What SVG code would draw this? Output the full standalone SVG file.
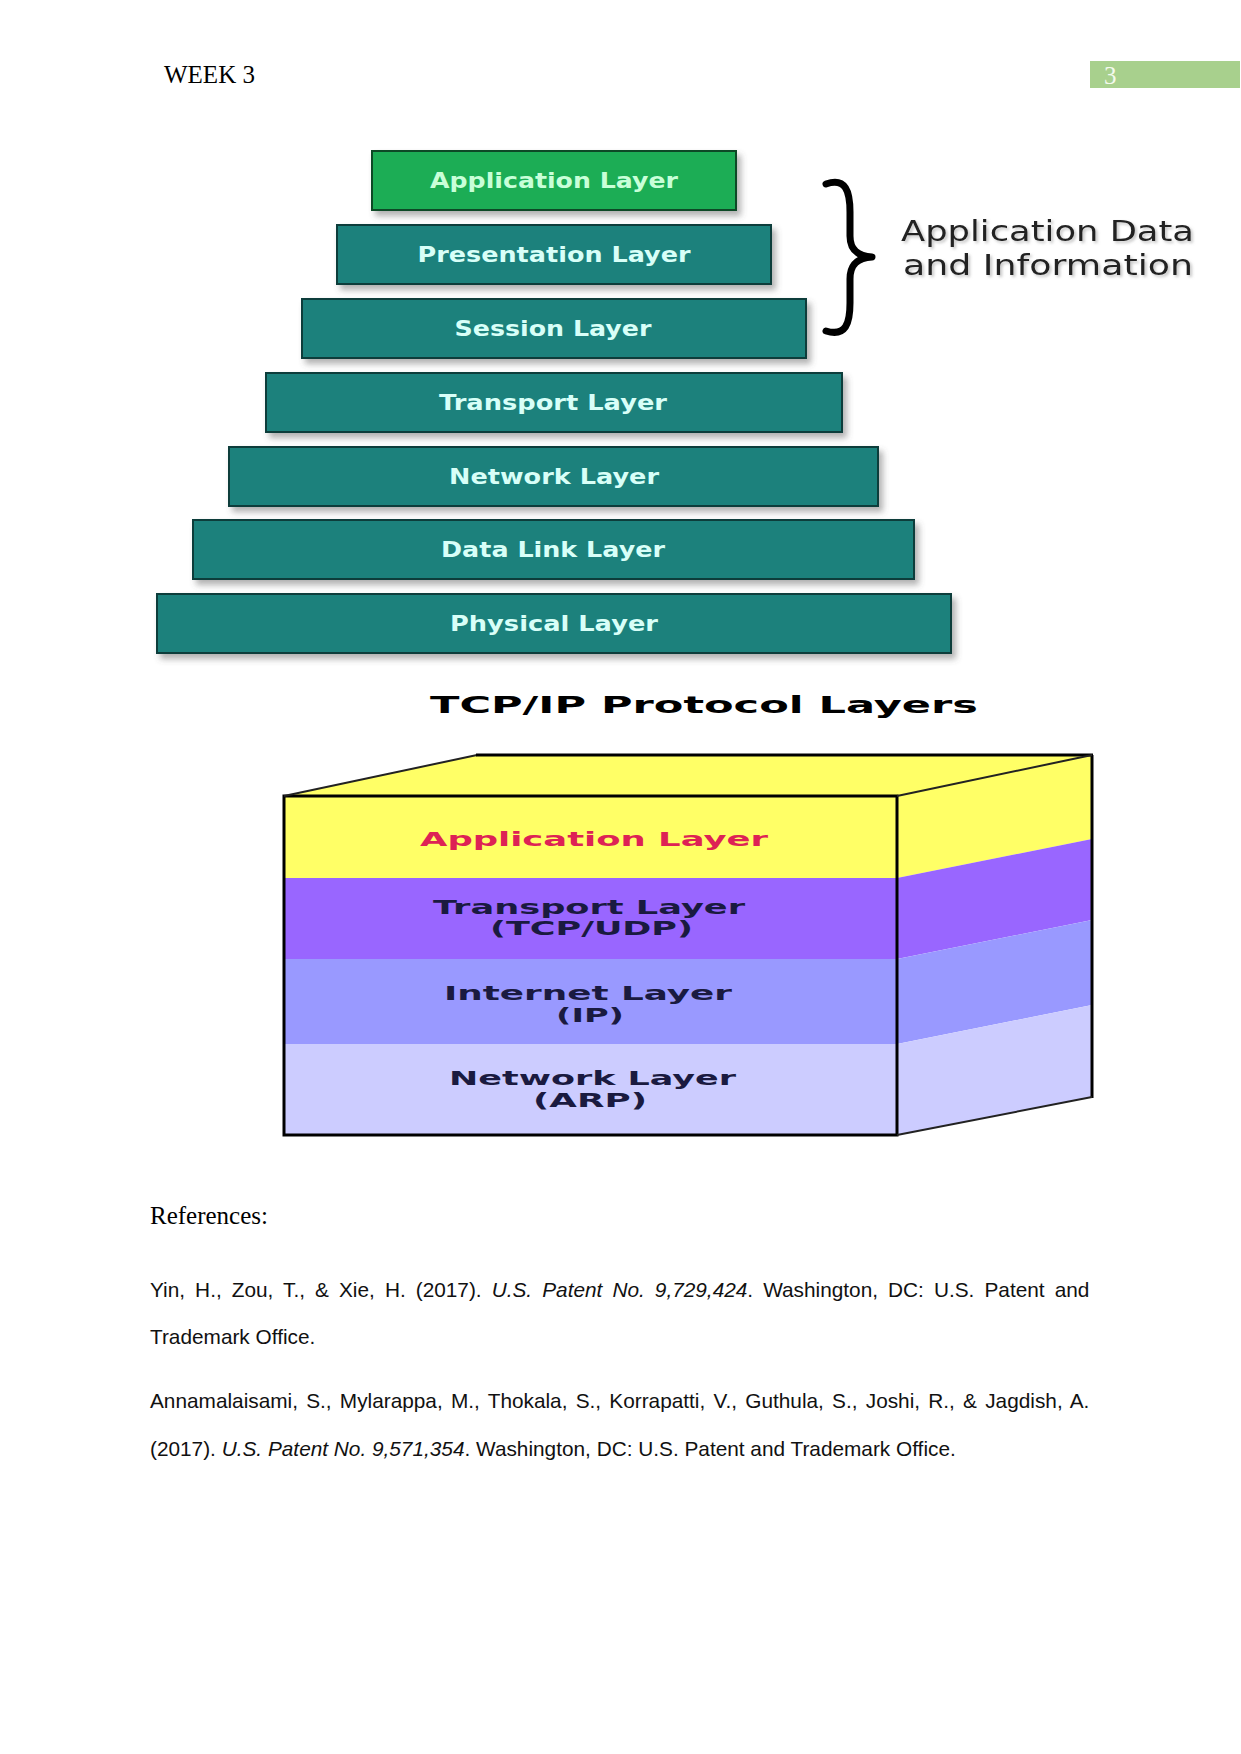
<svg xmlns="http://www.w3.org/2000/svg" width="1241" height="1754" viewBox="0 0 1241 1754">
<defs>
<filter id="sh" x="-5%" y="-20%" width="115%" height="160%">
<feDropShadow dx="4" dy="5" stdDeviation="3" flood-color="#555" flood-opacity="0.45"/>
</filter>
<filter id="tsh" x="-5%" y="-30%" width="115%" height="170%">
<feDropShadow dx="2" dy="2" stdDeviation="1.5" flood-color="#888" flood-opacity="0.5"/>
</filter>
</defs>
<style>
.hdr{font-family:"Liberation Serif","Times New Roman",serif;font-size:25px;fill:#000}
.box{fill:#1a817c;stroke:#0c3d3b;stroke-width:2}
.box.app{fill:#1aad55;stroke:#0d4a25}
.bt{font-family:"DejaVu Sans",Verdana,sans-serif;font-weight:bold;font-size:21px;fill:#d8fff8;text-anchor:middle}
.bt.app{fill:#c8ffd8}
.side{font-family:"DejaVu Sans",Verdana,sans-serif;font-size:28px;fill:#222}
.ttl{font-family:"DejaVu Sans",Verdana,sans-serif;font-weight:bold;font-size:23px;fill:#000}
.ct{font-family:"DejaVu Sans",Verdana,sans-serif;font-weight:bold;font-size:19px;fill:#1a1a40}
.ct.red{fill:#dd2255}
.edge{stroke:#000;fill:none;stroke-width:3}
.thin{stroke:#222;fill:none;stroke-width:2}
.ref{font-family:"Liberation Sans",Arial,sans-serif;font-size:20.8px;fill:#111}
.it{font-style:italic}
</style>

<g id="header">
<text class="hdr" x="164" y="83">WEEK 3</text>
<rect x="1090" y="61" width="150" height="27" fill="#a8d08d"/>
<text class="hdr" x="1104" y="84" style="fill:#f4faee">3</text>
</g>

<g id="osi-pyramid">
<g id="osi-application"><rect class="box app" x="372" y="151" width="364" height="59" filter="url(#sh)"/><text class="bt app" x="554" y="188" textLength="248" lengthAdjust="spacingAndGlyphs">Application Layer</text></g>
<g id="osi-presentation"><rect class="box" x="337" y="225" width="434" height="59" filter="url(#sh)"/><text class="bt" x="554" y="262" textLength="273" lengthAdjust="spacingAndGlyphs">Presentation Layer</text></g>
<g id="osi-session"><rect class="box" x="302" y="299" width="504" height="59" filter="url(#sh)"/><text class="bt" x="553" y="336" textLength="197" lengthAdjust="spacingAndGlyphs">Session Layer</text></g>
<g id="osi-transport"><rect class="box" x="266" y="373" width="576" height="59" filter="url(#sh)"/><text class="bt" x="553" y="410" textLength="228" lengthAdjust="spacingAndGlyphs">Transport Layer</text></g>
<g id="osi-network"><rect class="box" x="229" y="447" width="649" height="59" filter="url(#sh)"/><text class="bt" x="554" y="484" textLength="210" lengthAdjust="spacingAndGlyphs">Network Layer</text></g>
<g id="osi-datalink"><rect class="box" x="193" y="520" width="721" height="59" filter="url(#sh)"/><text class="bt" x="553" y="557" textLength="224" lengthAdjust="spacingAndGlyphs">Data Link Layer</text></g>
<g id="osi-physical"><rect class="box" x="157" y="594" width="794" height="59" filter="url(#sh)"/><text class="bt" x="554" y="631" textLength="208" lengthAdjust="spacingAndGlyphs">Physical Layer</text></g>
</g>

<g id="brace-label">
<path d="M 826 184 C 846 177, 850 192, 850 212 L 850 236 C 850 250, 858 256, 872 257 C 858 258, 850 264, 850 279 L 850 303 C 850 323, 846 337, 826 331" fill="none" stroke="#000" stroke-width="7" stroke-linecap="round" stroke-linejoin="round"/>
<text class="side" x="901" y="241" textLength="293" lengthAdjust="spacingAndGlyphs" filter="url(#tsh)">Application Data</text>
<text class="side" x="903" y="275" textLength="290" lengthAdjust="spacingAndGlyphs" filter="url(#tsh)">and Information</text>
</g>

<g id="tcpip-title">
<text class="ttl" x="430" y="713" textLength="548" lengthAdjust="spacingAndGlyphs">TCP/IP Protocol Layers</text>
</g>

<g id="tcpip-cube">
<polygon points="284,796 477,755 1092,755 897,796" fill="#ffff66"/>
<polygon points="897,796 1092,755 1092,839 897,878" fill="#ffff66"/>
<polygon points="897,878 1092,839 1092,920 897,959" fill="#9966ff"/>
<polygon points="897,959 1092,920 1092,1005 897,1044" fill="#9999ff"/>
<polygon points="897,1044 1092,1005 1092,1097 897,1135" fill="#ccccff"/>
<g id="cube-application"><rect x="284" y="796" width="613" height="82" fill="#ffff66"/><text class="ct red" x="420" y="846" textLength="348" lengthAdjust="spacingAndGlyphs">Application Layer</text></g>
<g id="cube-transport"><rect x="284" y="878" width="613" height="81" fill="#9966ff"/><text class="ct" x="433" y="914" textLength="312" lengthAdjust="spacingAndGlyphs">Transport Layer</text><text class="ct" x="490" y="935" textLength="203" lengthAdjust="spacingAndGlyphs">(TCP/UDP)</text></g>
<g id="cube-internet"><rect x="284" y="959" width="613" height="85" fill="#9999ff"/><text class="ct" x="444" y="1000" textLength="288" lengthAdjust="spacingAndGlyphs">Internet Layer</text><text class="ct" x="556" y="1022" textLength="68" lengthAdjust="spacingAndGlyphs">(IP)</text></g>
<g id="cube-network"><rect x="284" y="1044" width="613" height="91" fill="#ccccff"/><text class="ct" x="449" y="1085" textLength="287" lengthAdjust="spacingAndGlyphs">Network Layer</text><text class="ct" x="533" y="1107" textLength="114" lengthAdjust="spacingAndGlyphs">(ARP)</text></g>
<rect class="edge" x="284" y="796" width="613" height="339"/>
<line class="thin" x1="284" y1="796" x2="477" y2="755"/>
<line class="edge" x1="476" y1="755" x2="1093" y2="755"/>
<line class="edge" x1="1092" y1="755" x2="1092" y2="1098"/>
<line class="thin" x1="897" y1="796" x2="1092" y2="755"/>
<line class="thin" x1="897" y1="1135" x2="1092" y2="1097"/>
</g>

<g id="references">
<text class="hdr" x="150" y="1224">References:</text>
<text class="ref" x="150" y="1297" word-spacing="4.28">Yin, H., Zou, T., &amp; Xie, H. (2017). <tspan class="it">U.S. Patent No. 9,729,424</tspan>. Washington, DC: U.S. Patent and</text>
<text class="ref" x="150" y="1344">Trademark Office.</text>
<text class="ref" x="150" y="1408" word-spacing="2.45">Annamalaisami, S., Mylarappa, M., Thokala, S., Korrapatti, V., Guthula, S., Joshi, R., &amp; Jagdish, A.</text>
<text class="ref" x="150" y="1456">(2017). <tspan class="it">U.S. Patent No. 9,571,354</tspan>. Washington, DC: U.S. Patent and Trademark Office.</text>
</g>
</svg>
